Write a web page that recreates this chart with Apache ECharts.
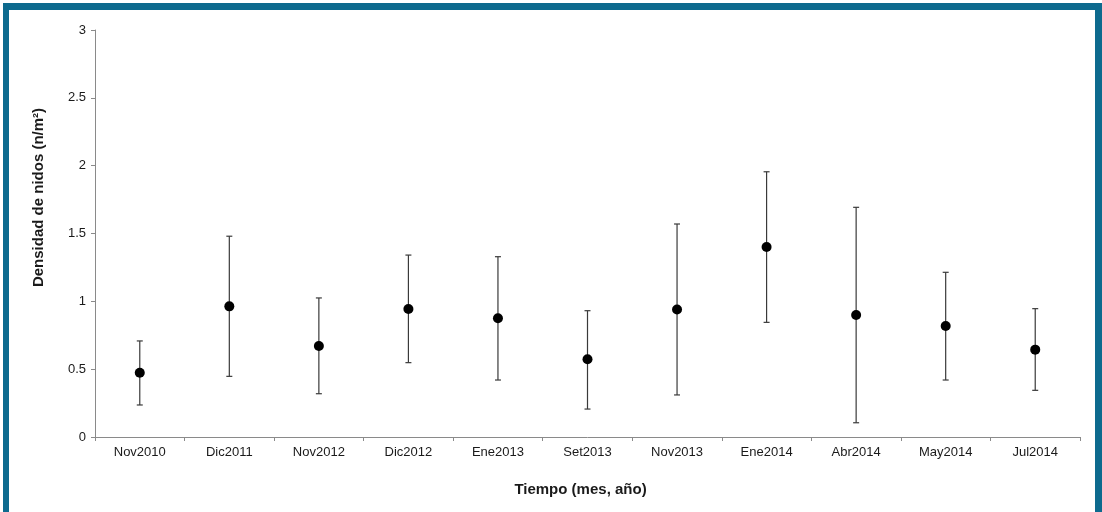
<!DOCTYPE html>
<html>
<head>
<meta charset="utf-8">
<script src="https://cdn.jsdelivr.net/npm/echarts@6/dist/echarts.min.js"></script>
<style>
html,body{margin:0;padding:0;background:#fff;}
#c{width:1102px;height:512px;}
</style>
</head>
<body>
<div id="c"></div>
<script>
const categories = ['Nov2010','Dic2011','Nov2012','Dic2012','Ene2013','Set2013','Nov2013','Ene2014','Abr2014','May2014','Jul2014'];
const means = [0.474, 0.963, 0.671, 0.943, 0.875, 0.573, 0.940, 1.400, 0.899, 0.818, 0.644];
const upper = [0.708, 1.480, 1.025, 1.341, 1.329, 0.931, 1.570, 1.955, 1.693, 1.214, 0.946];
const lower = [0.236, 0.447, 0.319, 0.548, 0.420, 0.206, 0.310, 0.845, 0.105, 0.420, 0.344];
const yTicks = [0, 0.5, 1, 1.5, 2, 2.5, 3];

const chart = echarts.init(document.getElementById('c'), null, {renderer:'canvas'});
const errData = categories.map((c,i)=>[i, lower[i], upper[i]]);
const font = 'Liberation Sans, Arial, sans-serif';
const borderColor = '#0d6a8e';

chart.setOption({
  animation:false,
  backgroundColor:'#fff',
  graphic:[
    {type:'rect', silent:true, shape:{x:3, y:3, width:1099, height:7}, style:{fill:borderColor}},
    {type:'rect', silent:true, shape:{x:3, y:3, width:6, height:509}, style:{fill:borderColor}},
    {type:'rect', silent:true, shape:{x:1095, y:3, width:7, height:509}, style:{fill:borderColor}}
  ],
  grid:{left:95, top:30, right:22, bottom:75, containLabel:false},
  xAxis:{
    type:'category', data:categories, boundaryGap:true,
    axisLine:{lineStyle:{color:'#8a8a8a', width:1}},
    axisTick:{show:true, alignWithLabel:false, length:4, inside:false, lineStyle:{color:'#8a8a8a'}},
    axisLabel:{color:'#1a1a1a', fontSize:13, fontFamily:font, margin:9, interval:0},
    name:'Tiempo (mes, año)', nameLocation:'middle', nameGap:45,
    nameTextStyle:{color:'#1a1a1a', fontSize:15, fontWeight:'bold', fontFamily:font, padding:[0,14,0,0]}
  },
  yAxis:{
    type:'value', min:0, max:3, interval:0.5,
    axisLine:{show:true, lineStyle:{color:'#8a8a8a', width:1}},
    axisTick:{show:true, length:4, lineStyle:{color:'#8a8a8a'}},
    splitLine:{show:false},
    axisLabel:{color:'#1a1a1a', fontSize:13, fontFamily:font, margin:9,
      formatter:v=>{ const t = yTicks.find(x=>Math.abs(x-v)<1e-9); return t===undefined?'':String(t); }},
    name:'Densidad de nidos (n/m²)', nameLocation:'middle', nameGap:49, nameRotate:90,
    nameTextStyle:{color:'#1a1a1a', fontSize:15, fontWeight:'bold', fontFamily:font, padding:[0,0,0,72]}
  },
  series:[
    {
      type:'custom', data:errData, z:2,
      renderItem:(params, api)=>{
        const x = api.value(0);
        const lo = api.coord([x, api.value(1)]);
        const hi = api.coord([x, api.value(2)]);
        const cap = 3;
        const st = {stroke:'#3a3a3a', lineWidth:1.2};
        return {type:'group', children:[
          {type:'line', shape:{x1:lo[0], y1:lo[1], x2:hi[0], y2:hi[1]}, style:st},
          {type:'line', shape:{x1:lo[0]-cap, y1:lo[1], x2:lo[0]+cap, y2:lo[1]}, style:st},
          {type:'line', shape:{x1:hi[0]-cap, y1:hi[1], x2:hi[0]+cap, y2:hi[1]}, style:st}
        ]};
      }
    },
    {
      type:'scatter', data:means, z:3,
      symbol:'circle', symbolSize:10,
      itemStyle:{color:'#000', opacity:1}
    }
  ]
});
</script>
</body>
</html>
